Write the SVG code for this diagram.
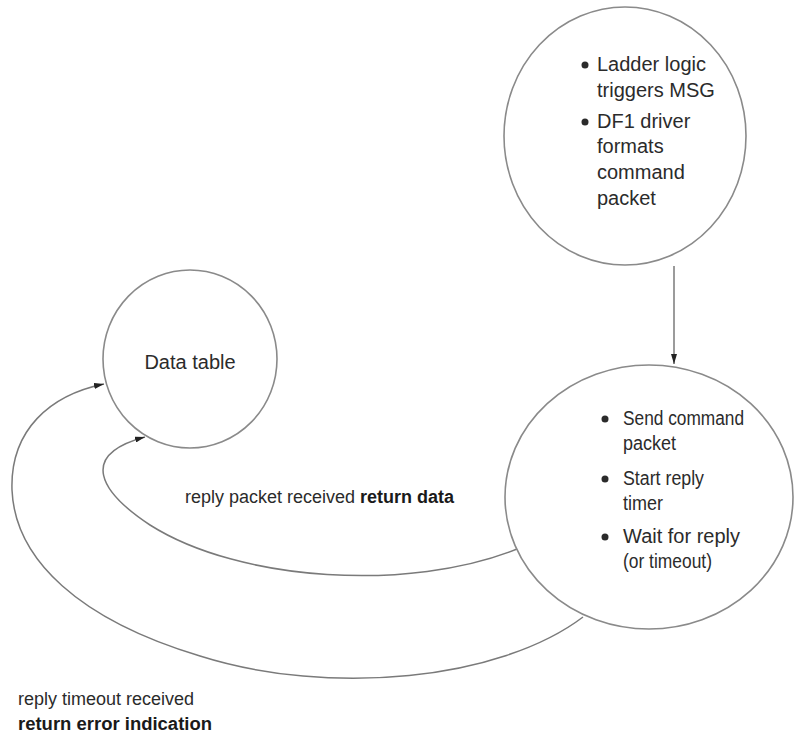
<svg xmlns="http://www.w3.org/2000/svg" width="796" height="740" viewBox="0 0 796 740">
  <style>
    .node { fill: #ffffff; stroke: #8a8a8a; stroke-width: 1.6; }
    .txt { font-family: "Liberation Sans", Arial, sans-serif; font-size: 20px; fill: #2b2b2b; }
    .lbl { font-family: "Liberation Sans", Arial, sans-serif; font-size: 18px; fill: #2b2b2b; }
    .b { font-weight: bold; fill: #1a1a1a; }
    .dot { fill: #2b2b2b; }
    .wire { fill: none; stroke: #7a7a7a; stroke-width: 1.5; }
  </style>
  <defs>
    <marker id="arrow" viewBox="0 0 10 6" refX="10" refY="3" markerWidth="10" markerHeight="6" markerUnits="userSpaceOnUse" orient="auto">
      <path d="M0,0 L10,3 L0,6 Z" fill="#222"/>
    </marker>
  </defs>
  <rect width="796" height="740" fill="#ffffff"/>

  <!-- connectors -->
  <g id="connectors">
    <path class="wire" d="M674,266 L674,364" marker-end="url(#arrow)"/>
    <path class="wire" d="M517,549 C410,592 240,582 150,525 C100,492 78,455 145,437" marker-end="url(#arrow)"/>
    <path class="wire" d="M583,617 C500,680 330,697 200,656 C80,620 15,560 12,490 C10,430 50,395 104,384" marker-end="url(#arrow)"/>
  </g>

  <!-- MSG trigger node -->
  <g id="msg-trigger">
    <ellipse class="node" cx="625" cy="136" rx="121" ry="129"/>
    <circle class="dot" cx="585" cy="65" r="3.5"/>
    <text class="txt" x="597" y="71">Ladder logic</text>
    <text class="txt" x="597" y="97">triggers MSG</text>
    <circle class="dot" cx="585" cy="122" r="3.5"/>
    <text class="txt" x="597" y="128">DF1 driver</text>
    <text class="txt" x="597" y="153">formats</text>
    <text class="txt" x="597" y="179">command</text>
    <text class="txt" x="597" y="205">packet</text>
  </g>

  <!-- Command / reply node -->
  <g id="send-command">
    <ellipse class="node" cx="649" cy="497" rx="144" ry="132"/>
    <circle class="dot" cx="605" cy="419" r="3.5"/>
    <text class="txt" x="623" y="425" textLength="121" lengthAdjust="spacingAndGlyphs">Send command</text>
    <text class="txt" x="623" y="450" textLength="53" lengthAdjust="spacingAndGlyphs">packet</text>
    <circle class="dot" cx="605" cy="479" r="3.5"/>
    <text class="txt" x="623" y="485" textLength="81" lengthAdjust="spacingAndGlyphs">Start reply</text>
    <text class="txt" x="623" y="510" textLength="40" lengthAdjust="spacingAndGlyphs">timer</text>
    <circle class="dot" cx="605" cy="537" r="3.5"/>
    <text class="txt" x="623" y="543" textLength="117" lengthAdjust="spacingAndGlyphs">Wait for reply</text>
    <text class="txt" x="623" y="568" textLength="89" lengthAdjust="spacingAndGlyphs">(or timeout)</text>
  </g>

  <!-- Data table node -->
  <g id="data-table">
    <ellipse class="node" cx="190" cy="359" rx="87" ry="89"/>
    <text class="txt" x="190" y="369" text-anchor="middle">Data table</text>
  </g>

  <!-- edge labels -->
  <g id="labels">
    <text class="lbl" x="185" y="503">reply packet received <tspan class="b">return data</tspan></text>
    <text class="lbl" x="18" y="705">reply timeout received</text>
    <text class="lbl b" x="18" y="730" textLength="194" lengthAdjust="spacingAndGlyphs">return error indication</text>
  </g>
</svg>
